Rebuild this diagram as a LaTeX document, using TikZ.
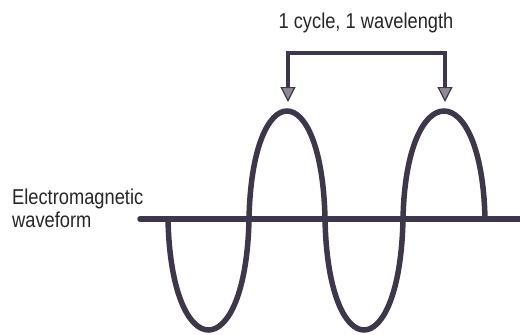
\documentclass[tikz,border=0pt]{standalone}
\usepackage{fontspec}
\setmainfont{Liberation Sans}[FakeStretch=0.85]
\usetikzlibrary{arrows.meta}
\definecolor{wave}{HTML}{3E3749}
\definecolor{ink}{HTML}{262626}
\definecolor{headfill}{HTML}{8E8994}
\begin{document}
\begin{tikzpicture}[x=1pt,y=-1pt,
  waveline/.style={draw=wave,line width=5.5pt},
  lbl/.style={text=ink,font=\fontsize{21.5}{23}\selectfont,inner sep=0pt},
  bracket/.style={draw=wave,line width=4pt,line join=miter,
    {Triangle[width=15pt,length=15pt,fill=headfill,line width=1.2pt]}-{Triangle[width=15pt,length=15pt,fill=headfill,line width=1.2pt]}}]
\useasboundingbox (0,0) rectangle (520,335);
% axis
\coordinate (ax0) at (140,219);
\coordinate (ax1) at (523,219);
\draw[waveline,line cap=round] (ax0) -- (ax1);
% wave
\coordinate (a0) at (168,219);
\coordinate (a1) at (249,219);
\coordinate (a2) at (325,219);
\coordinate (a3) at (403,219);
\coordinate (a4) at (485,219);
\draw[waveline] (a0) .. controls (171,367) and (246,367) .. (a1)
  .. controls (252,75) and (322,75) .. (a2)
  .. controls (328,367) and (400,367) .. (a3)
  .. controls (406,75) and (482,75) .. (a4);
% bracket
\coordinate (t1) at (288,102);
\coordinate (c1) at (288,53);
\coordinate (c2) at (445,53);
\coordinate (t2) at (445,102);
\draw[bracket] (t1) -- (c1) -- (c2) -- (t2);
% labels
\node[lbl,anchor=base] (cyc) at (366,28) {1 cycle, 1 wavelength};
\node[lbl,anchor=base west] (em1) at (12,204) {Electromagnetic};
\node[lbl,anchor=base west] (em2) at (12,227) {waveform};
\end{tikzpicture}
\end{document}
